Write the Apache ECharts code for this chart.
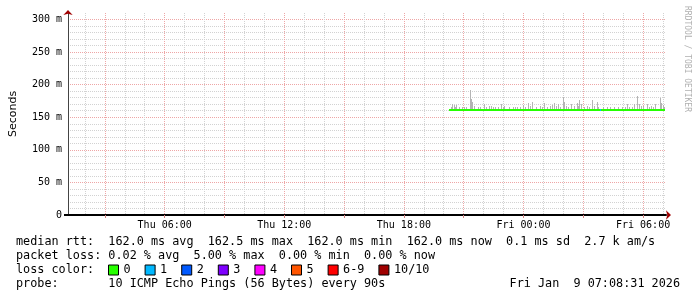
<!DOCTYPE html>
<html><head><meta charset="utf-8">
<script src="https://cdn.jsdelivr.net/npm/echarts@6/dist/echarts.min.js"></script>
<style>html,body{margin:0;padding:0;background:#fff}#c{width:697px;height:297px}</style>
</head><body><div id="c"></div>
<script>
// Time is in hours since Thu 00:00 (Jan 8 2026)
const timeMin = 1.15;   // Thu 01:09
const timeMax = 31.15;  // Fri 07:09
const hourTicks = [2,3,4,5,6,7,8,9,10,11,12,13,14,15,16,17,18,19,20,21,22,23,24,25,26,27,28,29,30,31];
const majorTicks = [3,6,9,12,15,18,21,24,27,30];
const labelTicks = [6,12,18,24,30];
const xTickLabels = ['Thu 06:00','Thu 12:00','Thu 18:00','Fri 00:00','Fri 06:00'];
const yLabelValues = [0,50,100,150,200,250,300];
const yTickLabels = ['0','50 m','100 m','150 m','200 m','250 m','300 m'];

const lossNames = ['0','1','2','3','4','5','6-9','10/10'];
const lossColors = ['#26ff00','#00b8ff','#0059ff','#7e00ff','#ff00ff','#ff5500','#ff0000','#a00000'];

// median rtt segments per loss class: [start hour, end hour, ms]
const medianLoss0 = [[20.27, 27.82, 162.0], [27.88, 31.12, 162.0]];
const medianLoss1 = [[27.82, 27.88, 162.0]];
const medianRtt = 162.0;

// smoke (max ping rtt, ms) per sample time
const smokeTimes = [20.35,20.40,20.50,20.55,20.60,20.75,20.90,21.00,21.10,21.30,21.35,21.40,21.50,21.70,21.80,22.00,22.10,22.25,22.35,22.45,22.55,22.70,22.85,22.95,23.00,23.25,23.45,23.55,23.70,23.85,24.00,24.10,24.25,24.35,24.45,24.65,24.85,24.95,25.05,25.20,25.35,25.45,25.55,25.65,25.75,25.85,26.00,26.05,26.15,26.25,26.40,26.55,26.70,26.75,26.80,26.90,27.05,27.20,27.30,27.45,27.55,27.70,27.75,28.00,28.20,28.35,28.55,28.75,28.95,29.10,29.20,29.30,29.45,29.55,29.70,29.80,29.90,30.00,30.20,30.30,30.40,30.50,30.60,30.85,30.90,31.00,31.05];
const smokeMax   = [166,171,169,166,169,166,166,165,166,192,178,174,167,165,166,171,166,168,168,166,165,166,171,166,167,166,165,166,166,165,169,166,172,167,174,166,167,166,172,166,167,169,172,168,171,166,181,174,167,166,171,168,172,167,177,171,166,167,166,177,168,173,166,166,165,166,166,165,165,166,171,166,166,171,182,171,167,168,171,166,167,166,171,180,172,169,166];

const statsLines = [
  'median rtt:  162.0 ms avg  162.5 ms max  162.0 ms min  162.0 ms now  0.1 ms sd  2.7 k am/s',
  'packet loss: 0.02 % avg  5.00 % max  0.00 % min  0.00 % now'
];
const lossLabel = 'loss color:';
const probeText = 'probe:       10 ICMP Echo Pings (56 Bytes) every 90s';
const dateText = 'Fri Jan  9 07:08:31 2026';
const watermark = 'RRDTOOL / TOBI OETIKER';

const MONO = 'DejaVu Sans Mono';
const minorGrid = {color:'#d2d2d2', width:1, type:[1,1]};
const majorGrid = {color:'#eea6a6', width:1, type:[1,1]};
const hidden = {axisLine:{show:false}, axisTick:{show:false}, axisLabel:{show:false}};

const chart = echarts.init(document.getElementById('c'), null, {renderer:'canvas'});

const xBase = {type:'value', min:timeMin, max:timeMax, position:'bottom', gridIndex:0};
const yBase = {type:'value', min:0, max:310, position:'left', gridIndex:0};

function segRender(params, api) {
  const p0 = api.coord([api.value(0), api.value(2)]);
  const p1 = api.coord([api.value(1), api.value(2)]);
  const y = Math.ceil(p0[1]);
  return {type:'line', shape:{x1:Math.round(p0[0]), y1:y, x2:Math.round(p1[0]), y2:y},
          style:{stroke:api.visual('color'), lineWidth:2}};
}

const lossSeries = lossNames.map((n, i) => ({
  type:'custom', name:n, xAxisIndex:2, yAxisIndex:2, z:5,
  itemStyle:{color:lossColors[i]},
  encode:{x:[0,1], y:2},
  data: i === 0 ? medianLoss0 : (i === 1 ? medianLoss1 : []),
  renderItem: segRender
}));

const textFont = '11.8px "DejaVu Sans Mono"';

chart.setOption({
  animation:false,
  backgroundColor:'#fff',
  grid:{left:66, right:31, top:13, bottom:82},
  xAxis:[
    Object.assign({}, xBase, hidden, {axisTick:{show:false, customValues:hourTicks},
      splitLine:{show:true, customValues:hourTicks, lineStyle:minorGrid}}),
    Object.assign({}, xBase, hidden, {axisTick:{show:false, customValues:majorTicks},
      splitLine:{show:true, customValues:majorTicks, lineStyle:majorGrid}}),
    Object.assign({}, xBase, {
      axisLine:{show:true, lineStyle:{color:'#000', width:2}},
      axisTick:{show:true, customValues:majorTicks, length:3, lineStyle:{color:'#d08080'}},
      axisLabel:{show:true, customValues:labelTicks, margin:5, fontFamily:MONO, fontSize:10, color:'#000',
        formatter:(v)=>{const k = labelTicks.indexOf(v); return k >= 0 ? xTickLabels[k] : '';}},
      splitLine:{show:false}
    }),
    Object.assign({}, xBase, hidden, {
      axisLine:{show:true, lineStyle:{color:'#a00000', width:0}, symbol:['none','arrow'], symbolSize:[7,5], symbolOffset:[0,5]},
      splitLine:{show:false}
    })
  ],
  yAxis:[
    Object.assign({}, yBase, hidden, {interval:10, splitLine:{show:true, showMaxLine:false, lineStyle:minorGrid}}),
    Object.assign({}, yBase, hidden, {interval:50, splitLine:{show:true, showMaxLine:false, showMinLine:false, lineStyle:majorGrid}}),
    Object.assign({}, yBase, {
      interval:50,
      name:'Seconds', nameLocation:'middle', nameGap:49,
      nameTextStyle:{fontFamily:'DejaVu Sans', fontSize:11, color:'#000'},
      axisLine:{show:true, lineStyle:{color:'#444', width:1}},
      axisTick:{show:true, customValues:[0], length:4, lineStyle:{color:'#000', width:2}},
      axisLabel:{show:true, customValues:yLabelValues, margin:6, fontFamily:MONO, fontSize:10, color:'#000',
        formatter:(v)=>{const k = yLabelValues.indexOf(v); return k >= 0 ? yTickLabels[k] : '';}},
      splitLine:{show:false}
    }),
    Object.assign({}, yBase, hidden, {
      axisLine:{show:true, lineStyle:{color:'#a00000', width:0}, symbol:['none','arrow'], symbolSize:[7,5], symbolOffset:[0,3]},
      splitLine:{show:false}
    })
  ],
  legend:{
    data:lossNames, left:108, top:264, icon:'rect', itemWidth:10, itemHeight:10, itemGap:14, padding:0,
    itemStyle:{borderColor:'#000', borderWidth:1},
    textStyle:{fontFamily:MONO, fontSize:11.8, color:'#000'},
    selectedMode:false
  },
  graphic:[
    {type:'text', left:16, top:236, style:{text:statsLines[0], font:textFont, fill:'#000'}},
    {type:'text', left:16, top:250, style:{text:statsLines[1], font:textFont, fill:'#000'}},
    {type:'text', left:16, top:264, style:{text:lossLabel, font:textFont, fill:'#000'}},
    {type:'text', left:16, top:278, style:{text:probeText, font:textFont, fill:'#000'}},
    {type:'text', right:17, top:278, style:{text:dateText, font:textFont, fill:'#000'}},
    {type:'text', x:687, y:59, rotation:-Math.PI/2,
      style:{text:watermark, font:'8px "DejaVu Sans Mono"', fill:'#b0b0b0', align:'center', verticalAlign:'middle'}}
  ],
  series:[
    {
      type:'custom', name:'smoke', xAxisIndex:2, yAxisIndex:2, z:3,
      encode:{x:0, y:1},
      data: smokeTimes.map((t, i) => [t, smokeMax[i]]),
      renderItem(params, api) {
        const top = api.coord([api.value(0), api.value(1)]);
        const base = api.coord([api.value(0), medianRtt]);
        const yt = Math.round(top[1]);
        return {type:'rect', shape:{x:Math.round(top[0]), y:yt, width:1, height:Math.round(base[1]) - yt},
                style:{fill:'#b4b4b4'}};
      }
    }
  ].concat(lossSeries)
});
</script>
</body></html>
